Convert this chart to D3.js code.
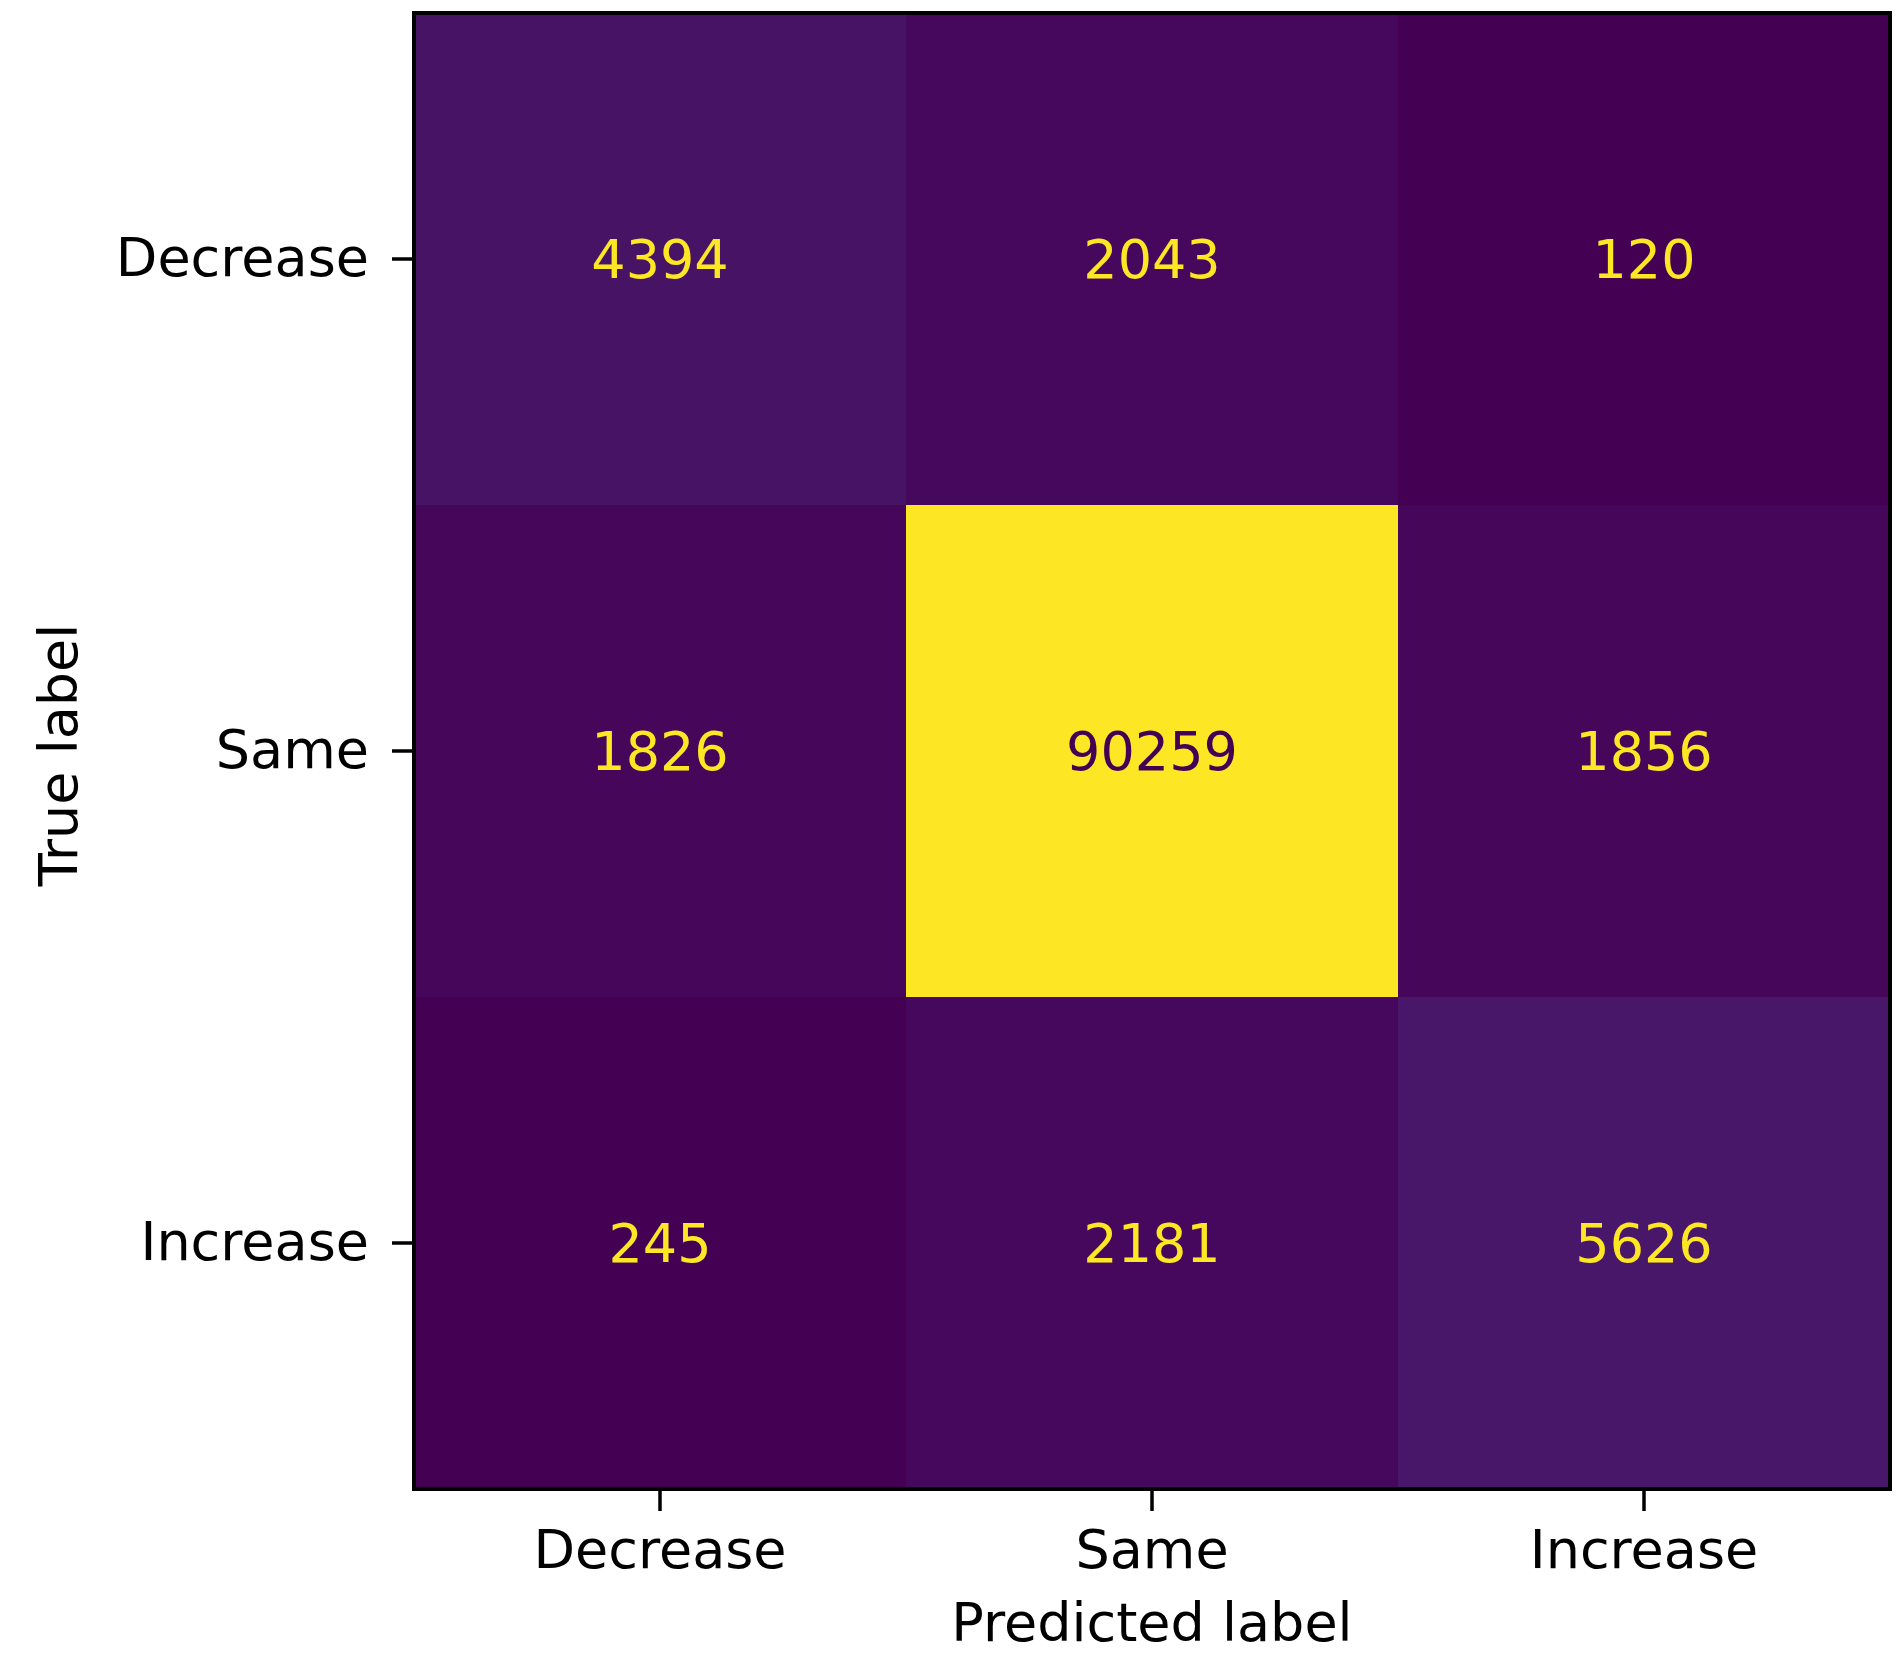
<!DOCTYPE html>
<html>
<head>
<meta charset="utf-8">
<script src="https://cdn.jsdelivr.net/npm/d3@7"></script>
<style>
  html, body { margin: 0; padding: 0; background: #ffffff; }
  svg { display: block; }
  text { font-family: "DejaVu Sans", sans-serif; }
</style>
</head>
<body>
<script>
const categories = ["Decrease", "Same", "Increase"];
const rowDecrease = [4394, 2043, 120];
const rowSame = [1826, 90259, 1856];
const rowIncrease = [245, 2181, 5626];
const matrix = [rowDecrease, rowSame, rowIncrease];
const xLabel = "Predicted label";
const yLabel = "True label";

const W = 1901, H = 1656;
const plotL = 414, plotR = 1890, plotT = 13, plotB = 1489;
const fontSize = 54;

const svg = d3.select("body").append("svg").attr("width", W).attr("height", H);

const x = d3.scaleBand().domain(categories).range([plotL, plotR]).padding(0);
const y = d3.scaleBand().domain(categories).range([plotT, plotB]).padding(0);

const all = matrix.flat();
const vmin = d3.min(all), vmax = d3.max(all);
const color = d3.scaleSequential(d3.interpolateViridis).domain([vmin, vmax]);
const thresh = (vmin + vmax) / 2;

const cells = [];
matrix.forEach((row, i) => row.forEach((v, j) => cells.push({ t: categories[i], p: categories[j], v })));

svg.append("g").selectAll("rect").data(cells).join("rect")
  .attr("x", d => x(d.p)).attr("y", d => y(d.t))
  .attr("width", x.bandwidth()).attr("height", y.bandwidth())
  .attr("fill", d => color(d.v));

svg.append("g").selectAll("text").data(cells).join("text")
  .attr("x", d => x(d.p) + x.bandwidth() / 2)
  .attr("y", d => y(d.t) + y.bandwidth() / 2)
  .attr("dy", "0.36em")
  .attr("text-anchor", "middle")
  .attr("font-size", fontSize)
  .attr("fill", d => d.v < thresh ? color(vmax) : color(vmin))
  .text(d => d.v);

// spines
svg.append("rect")
  .attr("x", plotL).attr("y", plotT)
  .attr("width", plotR - plotL).attr("height", plotB - plotT)
  .attr("fill", "none").attr("stroke", "#000").attr("stroke-width", 4);

const xAxis = svg.append("g").attr("transform", `translate(0,${plotB + 2})`)
  .call(d3.axisBottom(x).tickSize(20).tickPadding(19));
xAxis.select(".domain").remove();
xAxis.selectAll(".tick line").attr("stroke", "#000").attr("stroke-width", 3.5);
xAxis.selectAll(".tick text").attr("font-size", fontSize).attr("font-family", "DejaVu Sans").attr("fill", "#000");

const yAxis = svg.append("g").attr("transform", `translate(${plotL - 2},0)`)
  .call(d3.axisLeft(y).tickSize(20).tickPadding(23));
yAxis.select(".domain").remove();
yAxis.selectAll(".tick line").attr("stroke", "#000").attr("stroke-width", 3.5);
yAxis.selectAll(".tick text").attr("font-size", fontSize).attr("font-family", "DejaVu Sans").attr("fill", "#000");

svg.append("text")
  .attr("x", (plotL + plotR) / 2).attr("y", 1641)
  .attr("text-anchor", "middle").attr("font-size", fontSize).attr("fill", "#000")
  .text(xLabel);

svg.append("text")
  .attr("transform", `translate(77,${(plotT + plotB) / 2 + 4}) rotate(-90)`)
  .attr("text-anchor", "middle").attr("font-size", fontSize).attr("fill", "#000")
  .text(yLabel);
</script>
</body>
</html>
